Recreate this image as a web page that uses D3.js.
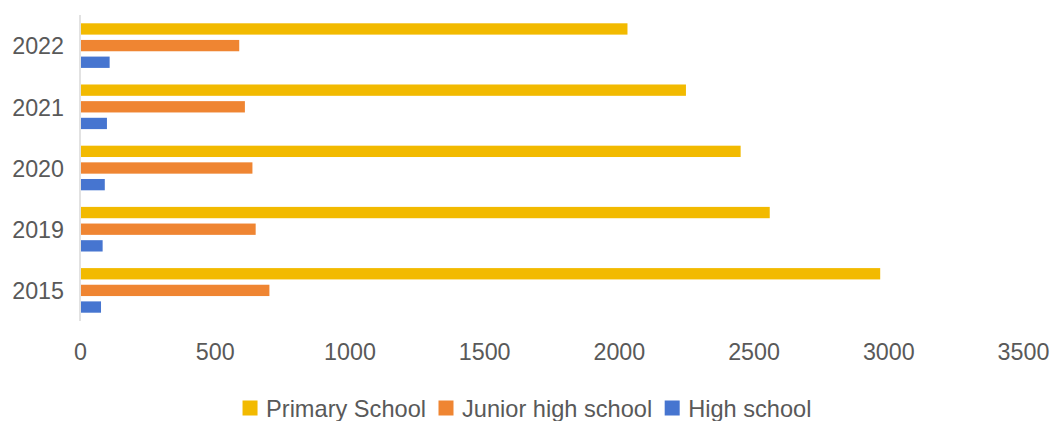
<!DOCTYPE html>
<html>
<head>
<meta charset="utf-8">
<script src="https://cdn.jsdelivr.net/npm/d3@7/dist/d3.min.js"></script>
<style>
  html, body { margin: 0; padding: 0; background: #fff; }
  svg { display: block; font-family: "Liberation Sans", Arial, Helvetica, sans-serif; }
</style>
</head>
<body>
<svg id="chart" width="1052" height="421"></svg>
<script>
const years = ["2022", "2021", "2020", "2019", "2015"];
const seriesNames = ["Primary School", "Junior high school", "High school"];
const primary = [2032, 2249, 2452, 2560, 2970];
const juniorHigh = [591, 612, 640, 652, 703];
const highSchool = [110, 100, 92, 84, 78];
const xTicks = [0, 500, 1000, 1500, 2000, 2500, 3000, 3500];
const colors = ["#F2BA00", "#EF8532", "#4675D0"];

const seriesValues = [primary, juniorHigh, highSchool];
const data = years.map((yr, i) => ({
  year: yr,
  values: seriesNames.map((s, j) => ({ series: s, value: seriesValues[j][i] }))
}));

const svg = d3.select("#chart");
const plotLeft = 80, plotRight = 1023, plotTop = 15, plotBottom = 321;

const x = d3.scaleLinear().domain([0, 3500]).range([plotLeft, plotRight]);
const y = d3.scaleBand().domain(years).range([plotTop, plotBottom]).paddingInner(0.271).paddingOuter(0.1355);
const ySub = d3.scaleBand().domain(seriesNames).range([0, y.bandwidth()]).paddingInner(0.32);
const color = d3.scaleOrdinal().domain(seriesNames).range(colors);

// bars
const groups = svg.append("g").selectAll("g").data(data).join("g")
  .attr("transform", d => `translate(0,${y(d.year)})`);
groups.selectAll("rect").data(d => d.values).join("rect")
  .attr("x", x(0) + 1)
  .attr("y", d => ySub(d.series))
  .attr("width", d => x(d.value) - x(0) - 1)
  .attr("height", ySub.bandwidth())
  .attr("fill", d => color(d.series));

// y axis line
svg.append("line")
  .attr("x1", x(0)).attr("x2", x(0))
  .attr("y1", plotTop).attr("y2", plotBottom)
  .attr("stroke", "#d9d9d9").attr("stroke-width", 1.5);

// y labels
const yAxis = d3.axisLeft(y).tickSize(0).tickPadding(16);
const yg = svg.append("g").attr("transform", `translate(${x(0)},0)`).call(yAxis);
yg.select(".domain").remove();
yg.selectAll("text").attr("font-size", 23.3).attr("fill", "#595959").attr("dy", "0.38em")
  .attr("font-family", "'Liberation Sans', Arial, Helvetica, sans-serif");

// x axis labels
const xAxis = d3.axisBottom(x).tickValues(xTicks).tickSize(0).tickPadding(0).tickFormat(d3.format("d"));
const xg = svg.append("g").attr("transform", `translate(0,343)`).call(xAxis);
xg.select(".domain").remove();
xg.selectAll("text").attr("font-size", 23.3).attr("fill", "#595959").attr("dy", "0.72em")
  .attr("font-family", "'Liberation Sans', Arial, Helvetica, sans-serif");

// legend
const legend = svg.append("g");
const sq = 15, gapSqText = 8.5, gapItems = 12.5;
const items = legend.selectAll("g").data(seriesNames).join("g");
items.append("rect").attr("width", sq).attr("height", sq).attr("y", -sq / 2)
  .attr("fill", d => color(d));
items.append("text").text(d => d).attr("x", sq + gapSqText).attr("dy", "0.36em")
  .attr("font-size", 23.6).attr("fill", "#595959");
let widths = [];
items.each(function () { widths.push(sq + gapSqText + this.querySelector("text").getComputedTextLength()); });
const total = widths.reduce((a, b) => a + b, 0) + gapItems * (widths.length - 1);
let cx = 527 - total / 2;
items.attr("transform", (d, i) => {
  const t = `translate(${cx},408)`;
  cx += widths[i] + gapItems;
  return t;
});
</script>
</body>
</html>
